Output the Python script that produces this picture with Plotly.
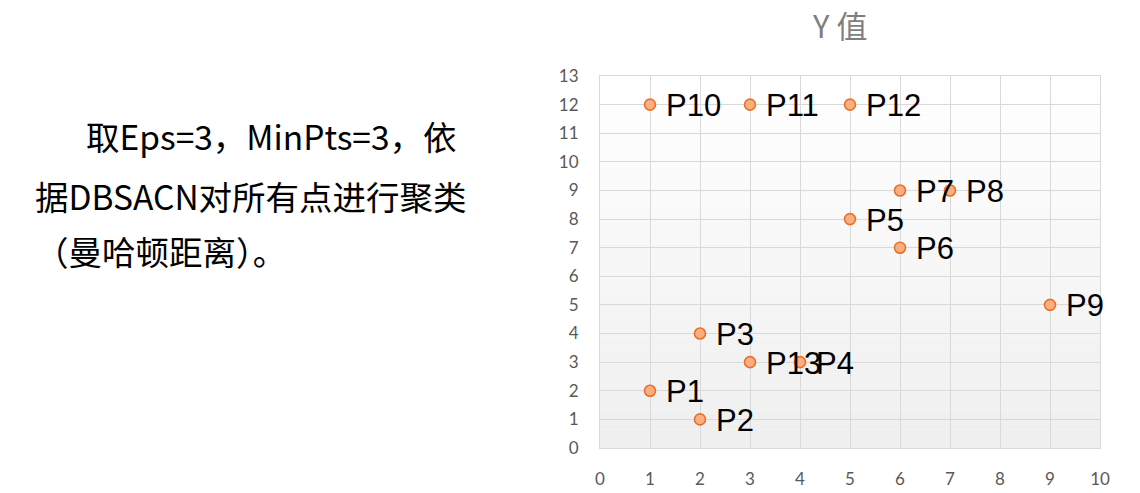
import plotly.graph_objects as go

labels = ["P1", "P2", "P3", "P4", "P5", "P6", "P7", "P8", "P9", "P10", "P11", "P12", "P13"]
x_vals = [1, 2, 2, 4, 5, 6, 6, 7, 9, 1, 3, 5, 3]
y_vals = [2, 1, 4, 3, 8, 7, 9, 9, 5, 12, 12, 12, 3]
x_ticks = list(range(0, 11))
y_ticks = list(range(0, 14))
title_text = "Y 值"
left_lines = ["取Eps=3，MinPts=3，依", "据DBSACN对所有点进行聚类", "（曼哈顿距离）。"]

W, H = 1140, 493
ML, MR, MT, MB = 600, 40, 76, 45
PW, PH = W - ML - MR, H - MT - MB

def px_x(px):
    return (px - ML) / PW

def px_y(py):
    return (H - MB - py) / PH

fig = go.Figure()
fig.add_trace(go.Scatter(
    x=x_vals, y=y_vals, mode="markers",
    marker=dict(size=11, color="#fbae80", line=dict(color="#e8702a", width=1.6)),
    cliponaxis=False, showlegend=False, hoverinfo="skip",
))

# gradient-like plot background (white at top to light gray at bottom)
n = 20
shapes = []
for i in range(n):
    t = i / (n - 1)
    g = int(round(255 - 16 * t))
    shapes.append(dict(type="rect", xref="paper", yref="paper",
                       x0=0, x1=1, y0=1 - (i + 1) / n, y1=1 - i / n,
                       fillcolor=f"rgb({g},{g},{g})", line=dict(width=0), layer="below"))

annotations = []
for lab, xv, yv in zip(labels, x_vals, y_vals):
    annotations.append(dict(text=lab, x=xv, y=yv, xref="x", yref="y",
                            xanchor="left", yanchor="middle", xshift=14, yshift=-1,
                            showarrow=False,
                            font=dict(family="Liberation Sans, Arial", size=31, color="black")))

annotations.append(dict(text=title_text, xref="paper", yref="paper", x=px_x(839), y=px_y(25),
                        xanchor="center", yanchor="middle", showarrow=False,
                        font=dict(family="Noto Sans CJK SC", size=31, color="#7f7f7f")))
line_pos = [(84, 135), (33, 195), (33, 250)]
for txt, (lx, ly) in zip(left_lines, line_pos):
    annotations.append(dict(text=txt, xref="paper", yref="paper", x=px_x(lx), y=px_y(ly),
                            xanchor="left", yanchor="middle", showarrow=False,
                            font=dict(family="Noto Sans CJK SC", size=33.5, color="black")))

fig.update_layout(
    width=W, height=H, margin=dict(l=ML, r=MR, t=MT, b=MB, pad=0, autoexpand=False),
    paper_bgcolor="white", plot_bgcolor="rgba(0,0,0,0)",
    shapes=shapes, annotations=annotations,
    xaxis=dict(range=[0, 10], tickvals=x_ticks, showgrid=True, gridcolor="#d9d9d9", gridwidth=1,
               zeroline=False, showline=True, linecolor="#d9d9d9", mirror=True,
               ticks="outside", ticklen=16, tickcolor="rgba(0,0,0,0)", automargin=False,
               tickfont=dict(family="Lato", size=17, color="#595959"), fixedrange=True),
    yaxis=dict(range=[0, 13], tickvals=y_ticks, showgrid=True, gridcolor="#d9d9d9", gridwidth=1,
               zeroline=False, showline=True, linecolor="#d9d9d9", mirror=True,
               ticks="outside", ticklen=17, tickcolor="rgba(0,0,0,0)", automargin=False,
               tickfont=dict(family="Lato", size=17, color="#595959"), fixedrange=True),
)

fig.write_html("out.html")
